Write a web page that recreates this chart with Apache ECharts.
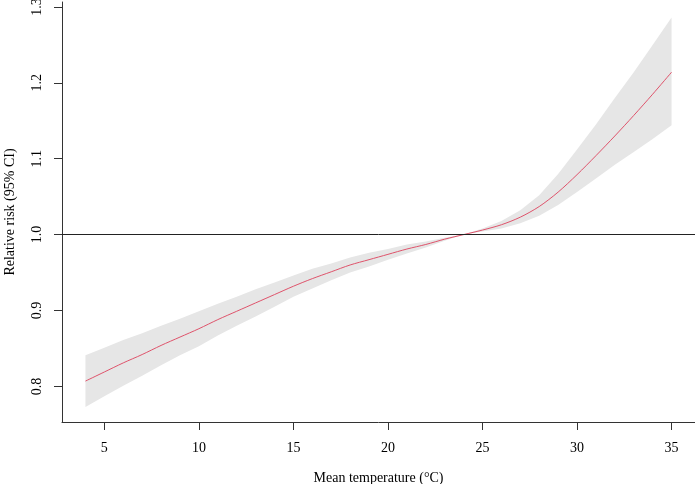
<!DOCTYPE html>
<html>
<head>
<meta charset="utf-8">
<script src="https://cdn.jsdelivr.net/npm/echarts@6/dist/echarts.min.js"></script>
<style>html,body{margin:0;padding:0;background:#fff;}#chart{width:695px;height:484px;}</style>
</head>
<body>
<div id="chart"></div>
<script>
var temps  = [4,5,6,7,8,9,10,11,12,13,14,15,16,17,18,19,20,21,22,23,24,25,26,27,28,29,30,31,32,33,34,35];
var rrMid  = [0.807,0.819,0.831,0.842,0.854,0.865,0.876,0.888,0.899,0.910,0.921,0.932,0.942,0.951,0.960,0.967,0.974,0.981,0.987,0.994,1.000,1.006,1.013,1.023,1.037,1.056,1.079,1.104,1.130,1.157,1.185,1.214];
var rrLow  = [0.773,0.787,0.801,0.814,0.828,0.841,0.853,0.867,0.880,0.892,0.905,0.918,0.929,0.940,0.950,0.958,0.967,0.975,0.983,0.992,1.000,1.004,1.008,1.015,1.025,1.039,1.056,1.074,1.092,1.109,1.126,1.144];
var rrHigh = [0.841,0.851,0.861,0.870,0.880,0.889,0.899,0.909,0.918,0.928,0.937,0.946,0.955,0.962,0.970,0.976,0.981,0.987,0.991,0.996,1.000,1.008,1.018,1.032,1.052,1.080,1.112,1.145,1.180,1.214,1.250,1.286];
var xTicks = [5,10,15,20,25,30,35];
var yTicks = [0.8,0.9,1.0,1.1,1.2,1.3];
var refRR = 1.0;

var font = 'Liberation Serif';
var axisCol = '#333333';

var midData = temps.map(function(t,i){return [t, rrMid[i]];});
var bandData = temps.map(function(t,i){return [t, rrLow[i], rrHigh[i]];});

function renderBand(params, api){
  if (params.dataIndex !== 0) return null;
  var pts = [];
  for (var i = 0; i < temps.length; i++) pts.push(api.coord([temps[i], rrHigh[i]]));
  for (var j = temps.length - 1; j >= 0; j--) pts.push(api.coord([temps[j], rrLow[j]]));
  return {type:'polygon', shape:{points:pts}, style:{fill:'#E6E6E6', stroke:null}, silent:true};
}

var chart = echarts.init(document.getElementById('chart'), null, {renderer:'canvas'});
chart.setOption({
  animation:false,
  backgroundColor:'#ffffff',
  grid:{left:62, right:0, top:2, bottom:62, containLabel:false, outerBoundsMode:'none'},
  xAxis:{
    type:'value', min:2.76, max:36.24,
    name:'Mean temperature (°C)', nameLocation:'middle', nameGap:49,
    nameTextStyle:{fontFamily:font, fontSize:14, color:'#000'},
    axisLine:{show:true, lineStyle:{color:axisCol, width:1}},
    axisTick:{show:true, inside:false, length:8, customValues:xTicks, lineStyle:{color:axisCol}},
    axisLabel:{show:true, customValues:xTicks, margin:19, fontFamily:font, fontSize:14, color:'#000'},
    splitLine:{show:false}
  },
  yAxis:{
    type:'value', min:0.7531, max:1.3065,
    name:'Relative risk (95% CI)', nameLocation:'middle', nameGap:45,
    nameTextStyle:{fontFamily:font, fontSize:14, color:'#000'},
    axisLine:{show:true, lineStyle:{color:axisCol, width:1}},
    axisTick:{show:true, inside:false, length:8, customValues:yTicks, lineStyle:{color:axisCol}},
    axisLabel:{show:true, customValues:yTicks, rotate:90, margin:18, fontFamily:font, fontSize:14, color:'#000',
      formatter:function(v){return v.toFixed(1);}},
    splitLine:{show:false}
  },
  series:[
    {type:'custom', data:bandData, renderItem:renderBand, silent:true, z:1,
      encode:{x:0, y:[1,2]}},
    {type:'line', data:midData, symbol:'none', smooth:0.3, lineStyle:{color:'#DF536B', width:1}, z:3,
      markLine:{silent:true, symbol:'none', label:{show:false}, lineStyle:{color:'#222', width:1, type:'solid'},
        data:[{yAxis:refRR}]}}
  ]
});
</script>
</body>
</html>
